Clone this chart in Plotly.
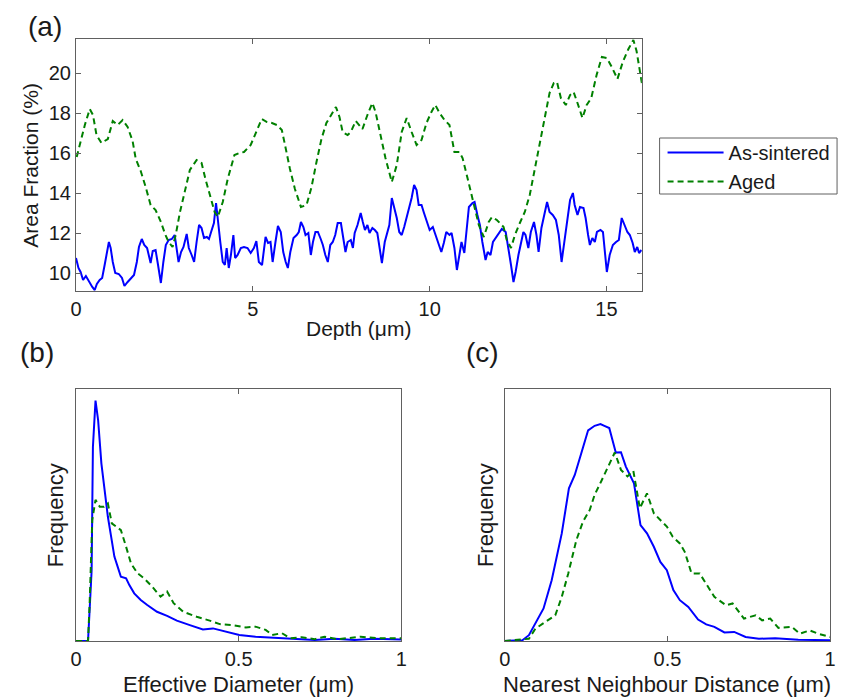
import plotly.graph_objects as go

# ---- panel (a): area fraction vs depth ----
depth_sint = [0.0, 0.07, 0.13, 0.2, 0.28, 0.37, 0.46, 0.53, 0.59, 0.67, 0.74, 0.81, 0.87, 0.93, 0.98,
              1.04, 1.11, 1.21, 1.3, 1.37, 1.46, 1.55, 1.64, 1.72, 1.78, 1.86, 1.93, 2.01, 2.11, 2.17,
              2.25, 2.32, 2.4, 2.47, 2.54, 2.62, 2.71, 2.79, 2.85, 2.9, 2.97, 3.04, 3.13, 3.19, 3.27,
              3.34, 3.41, 3.48, 3.55, 3.62, 3.7, 3.76, 3.82, 3.9, 3.96, 4.01, 4.08, 4.15, 4.21, 4.26,
              4.32, 4.38, 4.45, 4.5, 4.57, 4.66, 4.75, 4.85, 4.94, 5.03, 5.1, 5.17, 5.26, 5.36, 5.43,
              5.5, 5.56, 5.64, 5.71, 5.79, 5.86, 5.93, 5.99, 6.06, 6.15, 6.24, 6.3, 6.36, 6.43, 6.49,
              6.57, 6.64, 6.7, 6.77, 6.84, 6.92, 6.98, 7.05, 7.12, 7.19, 7.26, 7.33, 7.4, 7.49, 7.57,
              7.62, 7.68, 7.77, 7.83, 7.88, 7.96, 8.05, 8.11, 8.17, 8.24, 8.3, 8.38, 8.45, 8.52, 8.58,
              8.65, 8.73, 8.79, 8.86, 8.93, 9.01, 9.07, 9.14, 9.21, 9.28, 9.35, 9.42, 9.49, 9.56, 9.63,
              9.69, 9.77, 9.84, 9.92, 10.0, 10.09, 10.17, 10.25, 10.33, 10.4, 10.47, 10.56, 10.62, 10.7,
              10.77, 10.84, 10.9, 10.98, 11.04, 11.11, 11.21, 11.27, 11.35, 11.42, 11.49, 11.58, 11.64,
              11.72, 11.79, 11.87, 11.95, 12.04, 12.15, 12.23, 12.3, 12.37, 12.43, 12.51, 12.58, 12.65,
              12.71, 12.79, 12.86, 12.95, 13.02, 13.08, 13.16, 13.25, 13.32, 13.39, 13.48, 13.57, 13.65,
              13.73, 13.81, 13.88, 13.97, 14.05, 14.1, 14.18, 14.25, 14.35, 14.41, 14.48, 14.53, 14.6,
              14.67, 14.73, 14.83, 14.9, 14.97, 15.01, 15.09, 15.18, 15.27, 15.35, 15.43, 15.51, 15.59,
              15.66, 15.74, 15.8, 15.87, 15.92, 15.99]
area_sint = [10.75, 10.25, 10.05, 9.65, 9.85, 9.55, 9.3, 9.15, 9.45, 9.65, 9.75, 10.4, 10.9, 11.55, 11.25,
             10.55, 10.0, 9.95, 9.75, 9.35, 9.55, 9.75, 9.9, 10.55, 11.3, 11.7, 11.4, 11.25, 10.5, 11.1,
             11.15, 10.4, 9.5, 10.55, 11.4, 11.65, 11.7, 11.9, 11.25, 10.55, 11.05, 11.3, 11.95, 11.25, 10.9,
             10.55, 11.55, 12.4, 12.25, 11.75, 11.8, 11.7, 12.05, 12.5, 13.5, 12.55, 11.55, 10.55, 10.4, 11.25,
             10.25, 10.9, 11.9, 10.75, 10.9, 11.25, 11.3, 11.25, 11.0, 11.25, 11.6, 10.55, 10.4, 11.8, 11.5,
             11.55, 10.55, 11.55, 12.35, 12.05, 11.05, 10.55, 10.25, 11.05, 11.75, 11.9, 12.05, 12.55, 12.3, 11.9,
             12.0, 10.9, 11.55, 12.05, 12.05, 11.7, 11.4, 10.9, 10.55, 11.4, 11.55, 11.9, 12.5, 12.5, 11.55,
             11.05, 11.55, 11.65, 11.25, 12.0, 12.4, 13.0, 12.55, 12.15, 12.4, 12.0, 12.25, 12.15, 12.0, 11.25,
             10.5, 11.55, 11.9, 12.4, 13.75, 13.25, 12.75, 12.05, 11.9, 12.3, 12.75, 13.25, 13.75, 14.4, 14.15,
             13.4, 13.4, 13.0, 12.55, 12.15, 12.3, 11.9, 11.5, 11.05, 11.5, 12.05, 11.9, 12.0, 11.25,
             10.15, 10.9, 11.55, 11.0, 12.05, 13.3, 13.5, 13.55, 12.9, 12.4, 11.55, 10.65, 11.05,
             10.9, 11.55, 11.75, 12.0, 12.2, 12.05, 11.25, 10.4, 9.55, 10.05, 10.9, 11.4, 12.05,
             11.9, 11.25, 12.05, 12.55, 11.9, 11.05, 12.25, 13.05, 13.55, 13.05, 12.9, 12.65, 11.9,
             10.55, 11.55, 12.55, 13.65, 14.0, 13.4, 12.9, 13.3, 13.25, 12.75, 11.9, 11.4, 11.75,
             11.55, 12.05, 12.15, 12.05, 10.9, 10.05, 10.9, 11.4, 11.55, 11.65, 12.75, 12.4, 12.05,
             11.9, 11.5, 11.05, 11.3, 11.0, 11.15]

depth_aged = [0.02, 0.25, 0.39, 0.48, 0.58, 0.72, 0.9, 1.04, 1.18, 1.32, 1.46, 1.6, 1.69, 1.83, 1.97,
              2.11, 2.25, 2.39, 2.53, 2.62, 2.73, 2.82, 2.94, 3.08, 3.22, 3.41, 3.55, 3.66, 3.78, 3.92,
              4.01, 4.15, 4.29, 4.48, 4.62, 4.75, 4.94, 5.08, 5.25, 5.4, 5.54, 5.68, 5.82, 5.91, 6.05,
              6.19, 6.36, 6.52, 6.66, 6.8, 6.94, 7.08, 7.21, 7.35, 7.45, 7.54, 7.68, 7.77, 7.91, 8.1,
              8.24, 8.38, 8.47, 8.61, 8.75, 8.93, 9.07, 9.21, 9.35, 9.49, 9.63, 9.77, 9.91, 10.05, 10.16,
              10.28, 10.42, 10.56, 10.7, 10.84, 10.93, 11.07, 11.21, 11.3, 11.39, 11.53, 11.67, 11.76, 11.9,
              12.09, 12.18, 12.3, 12.41, 12.55, 12.69, 12.83, 12.97, 13.11, 13.25, 13.39, 13.51, 13.6,
              13.71, 13.85, 13.97, 14.07, 14.18, 14.32, 14.44, 14.57, 14.72, 14.87, 15.01, 15.15, 15.31,
              15.46, 15.62, 15.76, 15.85, 16.0]
area_aged = [15.8, 17.4, 18.2, 17.9, 16.9, 16.5, 16.7, 17.6, 17.4, 17.65, 17.3, 16.6, 15.7, 15.1, 14.3,
             13.4, 13.15, 12.6, 11.9, 11.55, 11.3, 11.9, 13.05, 14.05, 15.15, 15.65, 15.5, 14.7, 13.9, 13.05,
             12.8, 13.55, 14.7, 15.9, 16.0, 16.05, 16.4, 17.0, 17.7, 17.55, 17.5, 17.4, 17.15, 16.4, 15.2,
             14.2, 13.3, 13.4, 14.3, 15.55, 16.7, 17.5, 17.9, 18.3, 17.8, 17.05, 16.9, 17.05, 17.6, 17.2,
             17.9, 18.5, 18.05, 16.9, 15.75, 14.55, 15.4, 17.05, 17.75, 17.05, 16.4, 16.65, 17.5, 18.05, 18.4,
             18.0, 17.65, 17.4, 16.05, 16.05, 15.75, 14.75, 13.65, 13.05, 12.4, 11.8, 12.55, 12.8, 12.65,
             12.3, 11.65, 11.25, 11.9, 12.5, 13.05, 13.9, 15.2, 16.55, 17.75, 19.0, 19.5, 19.55,
             18.75, 18.4, 18.9, 19.05, 18.5, 17.75, 18.4, 18.75, 19.9, 20.8, 20.75, 20.3, 19.7,
             20.55, 21.2, 21.65, 21.1, 19.5]

# ---- panel (b): effective diameter distribution (arbitrary frequency units) ----
diam_sint = [0.0, 0.037, 0.048, 0.052, 0.06, 0.068, 0.078, 0.088, 0.098, 0.108, 0.118, 0.128, 0.138,
             0.154, 0.164, 0.179, 0.199, 0.219, 0.249, 0.28, 0.31, 0.35, 0.39, 0.421, 0.462, 0.502,
             0.552, 0.613, 0.674, 0.734, 0.795, 0.856, 0.916, 1.0]
freq_diam_sint = [0, 0, 0.28, 0.77, 0.954, 0.877, 0.705, 0.586, 0.493, 0.414, 0.335, 0.295, 0.255,
                  0.249, 0.222, 0.189, 0.163, 0.143, 0.116, 0.1, 0.081, 0.063, 0.046, 0.05, 0.037, 0.024,
                  0.017, 0.013, 0.009, 0.004, 0.009, 0.004, 0.009, 0.006]
diam_aged = [0.0, 0.037, 0.042, 0.05, 0.06, 0.073, 0.086, 0.098, 0.11, 0.123, 0.138, 0.154, 0.169,
             0.189, 0.209, 0.234, 0.26, 0.28, 0.3, 0.33, 0.371, 0.411, 0.442, 0.482, 0.522, 0.552,
             0.583, 0.603, 0.633, 0.658, 0.694, 0.734, 0.764, 0.804, 0.875, 0.925, 1.0]
freq_diam_aged = [0, 0, 0.15, 0.48, 0.56, 0.533, 0.533, 0.546, 0.467, 0.454, 0.44, 0.374, 0.308,
                  0.269, 0.249, 0.216, 0.176, 0.196, 0.15, 0.116, 0.096, 0.081, 0.067, 0.063, 0.054, 0.057,
                  0.044, 0.024, 0.031, 0.011, 0.015, 0.007, 0.017, 0.007, 0.017, 0.011, 0.011]

# ---- panel (c): nearest neighbour distance distribution ----
nnd_sint = [0.0, 0.054, 0.074, 0.099, 0.119, 0.144, 0.175, 0.197, 0.215, 0.235, 0.256, 0.276, 0.294,
            0.306, 0.321, 0.341, 0.357, 0.372, 0.397, 0.417, 0.437, 0.458, 0.478, 0.498, 0.518, 0.538,
            0.564, 0.594, 0.619, 0.644, 0.675, 0.705, 0.74, 0.781, 0.831, 0.902, 1.0]
freq_nnd_sint = [0, 0.003, 0.023, 0.082, 0.129, 0.241, 0.427, 0.606, 0.659, 0.745, 0.836, 0.854, 0.861,
                 0.854, 0.845, 0.748, 0.749, 0.692, 0.626, 0.46, 0.427, 0.374, 0.314, 0.281, 0.202, 0.162,
                 0.135, 0.085, 0.066, 0.056, 0.034, 0.036, 0.016, 0.009, 0.011, 0.005, 0.003]
nnd_aged = [0.0, 0.074, 0.094, 0.124, 0.155, 0.175, 0.195, 0.22, 0.24, 0.261, 0.276, 0.296, 0.316,
            0.338, 0.357, 0.377, 0.395, 0.415, 0.437, 0.458, 0.478, 0.498, 0.516, 0.538, 0.553, 0.574,
            0.599, 0.619, 0.644, 0.68, 0.7, 0.735, 0.771, 0.791, 0.816, 0.841, 0.882, 0.907, 0.937,
            0.963, 1.0]
freq_nnd_aged = [0, 0.009, 0.049, 0.076, 0.102, 0.175, 0.268, 0.401, 0.473, 0.52, 0.58, 0.633, 0.686,
                 0.748, 0.679, 0.653, 0.675, 0.527, 0.586, 0.507, 0.48, 0.454, 0.414, 0.387, 0.354, 0.268,
                 0.268, 0.228, 0.175, 0.142, 0.149, 0.089, 0.102, 0.082, 0.089, 0.052, 0.056, 0.029, 0.042,
                 0.029, 0.016]

BLUE = '#0000ff'
GREEN = '#008000'
FONT = 'Liberation Sans, Arial, sans-serif'
TXT = '#1a1a1a'
W, H = 847, 699

fig = go.Figure()

def add_pair(xs, ys, xg, yg, xa, ya, legend):
    fig.add_trace(go.Scatter(x=xs, y=ys, mode='lines', name='As-sintered',
                             line=dict(color=BLUE, width=2), xaxis=xa, yaxis=ya,
                             showlegend=legend))
    fig.add_trace(go.Scatter(x=xg, y=yg, mode='lines', name='Aged',
                             line=dict(color=GREEN, width=2, dash='6px,4px'), xaxis=xa, yaxis=ya,
                             showlegend=legend))

add_pair(depth_sint, area_sint, depth_aged, area_aged, 'x', 'y', True)
add_pair(diam_sint, freq_diam_sint, diam_aged, freq_diam_aged, 'x2', 'y2', False)
add_pair(nnd_sint, freq_nnd_sint, nnd_aged, freq_nnd_aged, 'x3', 'y3', False)

def px_x(p):
    return p / W

def px_y(p):
    return 1 - p / H

axis_common = dict(showline=True, linecolor='#606060', linewidth=1, mirror='ticks',
                   ticks='inside', ticklen=5, tickcolor='#606060', showgrid=False, zeroline=False,
                   tickfont=dict(family=FONT, size=20, color=TXT))
no_ticks = {**axis_common, 'ticks': '', 'showticklabels': False}

fig.update_layout(
    width=W, height=H, margin=dict(l=0, r=0, t=0, b=0),
    paper_bgcolor='white', plot_bgcolor='white',
    font=dict(family=FONT, color=TXT),
    xaxis=dict(domain=[px_x(71), px_x(645)], range=[0, 16], tickvals=[0, 5, 10, 15],
               anchor='y', **axis_common),
    yaxis=dict(domain=[px_y(291), px_y(39)], range=[9.1, 21.7], tickvals=[10, 12, 14, 16, 18, 20],
               anchor='x', **axis_common),
    xaxis2=dict(domain=[px_x(71), px_x(401)], range=[0, 1], tickvals=[0, 0.5, 1],
                ticktext=['0', '0.5', '1'], anchor='y2', **axis_common),
    yaxis2=dict(domain=[px_y(641), px_y(389)], range=[0, 1], anchor='x2', **no_ticks),
    xaxis3=dict(domain=[px_x(506), px_x(836)], range=[0, 1], tickvals=[0, 0.5, 1],
                ticktext=['0', '0.5', '1'], anchor='y3', **axis_common),
    yaxis3=dict(domain=[px_y(641), px_y(389)], range=[0, 1], anchor='x3', **no_ticks),
    legend=dict(x=px_x(666), y=px_y(133), xanchor='left', yanchor='top',
                borderwidth=0, bgcolor='rgba(0,0,0,0)', itemwidth=56,
                font=dict(family=FONT, size=20, color=TXT), tracegroupgap=0),
)

# legend frame
fig.add_shape(type='rect', xref='paper', yref='paper',
              x0=px_x(663), x1=px_x(843), y0=px_y(194), y1=px_y(138),
              line=dict(color='#606060', width=1), fillcolor='rgba(0,0,0,0)')

# panel labels and axis titles
labels = [
    ('(a)', 40, 26, 28, 0),
    ('(b)', 31, 352, 28, 0),
    ('(c)', 483, 352, 28, 0),
    ('Area Fraction (%)', 24, 165, 21, -90),
    ('Depth (μm)', 358, 328, 21, 0),
    ('Frequency', 50, 515, 22, -90),
    ('Effective Diameter (μm)', 236, 684, 22, 0),
    ('Frequency', 486, 515, 22, -90),
    ('Nearest Neighbour Distance (μm)', 671, 684, 22, 0),
]
for text, cx, cy, size, ang in labels:
    fig.add_annotation(text=text, x=px_x(cx), y=px_y(cy), xref='paper', yref='paper',
                       xanchor='center', yanchor='middle', showarrow=False, textangle=ang,
                       font=dict(family=FONT, size=size, color=TXT))

fig.write_html("out.html", config={'displayModeBar': False},
               post_script="document.body.style.margin='0px';")
